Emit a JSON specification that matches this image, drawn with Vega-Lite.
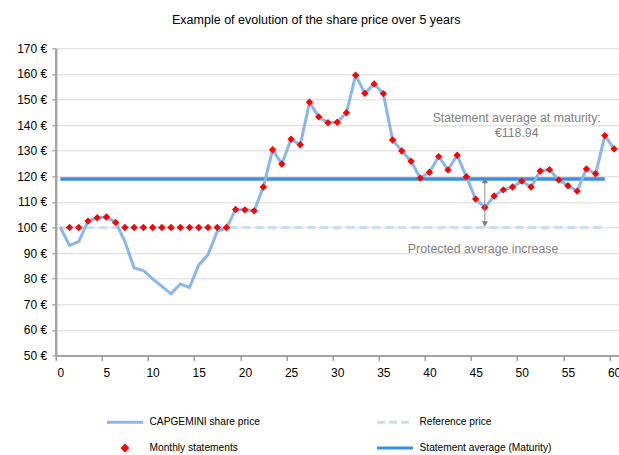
{
  "$schema": "https://vega.github.io/schema/vega-lite/v6.json",
  "autosize": {"type": "none"},
  "padding": {"left": 55.7, "top": 48.3, "right": 0.3, "bottom": 99.5},
  "width": 563,
  "height": 307.2,
  "background": "white",
  "title": {
    "text": "Example of evolution of the share price over 5 years",
    "font": "Liberation Sans",
    "fontSize": 12.5,
    "fontWeight": "normal",
    "color": "black",
    "anchor": "middle",
    "dx": -21,
    "offset": 16
  },
  "config": {
    "view": {"stroke": null},
    "font": "Liberation Sans",
    "axisX": {
      "title": null,
      "grid": false,
      "domainColor": "#8c8c8c",
      "domainWidth": 1.5,
      "tickColor": "#8c8c8c",
      "tickWidth": 1.2,
      "tickSize": 5,
      "tickOffset": -4.6,
      "labelOffset": 4.6,
      "labelPadding": 7,
      "labelFont": "Liberation Sans",
      "labelFontSize": 12,
      "labelColor": "black",
      "labelFlush": false,
      "labelOverlap": false
    },
    "axisY": {
      "title": null,
      "grid": true,
      "gridColor": "#d9d9d9",
      "gridWidth": 1,
      "domainColor": "#a6a6a6",
      "domainWidth": 2.5,
      "tickColor": "#8c8c8c",
      "tickWidth": 1,
      "tickSize": 4,
      "labelPadding": 5,
      "labelFont": "Liberation Sans",
      "labelFontSize": 12,
      "labelColor": "black",
      "labelFlush": false,
      "labelOverlap": false
    }
  },
  "datasets": {
    "main": [
      {"series": "CAPGEMINI share price", "month": 0, "value": 100},
      {"series": "CAPGEMINI share price", "month": 1, "value": 93},
      {"series": "CAPGEMINI share price", "month": 2, "value": 94.5},
      {"series": "CAPGEMINI share price", "month": 3, "value": 102.5},
      {"series": "CAPGEMINI share price", "month": 4, "value": 103.8},
      {"series": "CAPGEMINI share price", "month": 5, "value": 104.1},
      {"series": "CAPGEMINI share price", "month": 6, "value": 102},
      {"series": "CAPGEMINI share price", "month": 7, "value": 94.5},
      {"series": "CAPGEMINI share price", "month": 8, "value": 84.2},
      {"series": "CAPGEMINI share price", "month": 9, "value": 83.2},
      {"series": "CAPGEMINI share price", "month": 10, "value": 79.9},
      {"series": "CAPGEMINI share price", "month": 11, "value": 77},
      {"series": "CAPGEMINI share price", "month": 12, "value": 74.1},
      {"series": "CAPGEMINI share price", "month": 13, "value": 77.9},
      {"series": "CAPGEMINI share price", "month": 14, "value": 76.6},
      {"series": "CAPGEMINI share price", "month": 15, "value": 85.4},
      {"series": "CAPGEMINI share price", "month": 16, "value": 89.4},
      {"series": "CAPGEMINI share price", "month": 17, "value": 98.5},
      {"series": "CAPGEMINI share price", "month": 18, "value": 99.8},
      {"series": "CAPGEMINI share price", "month": 19, "value": 107},
      {"series": "CAPGEMINI share price", "month": 20, "value": 106.9},
      {"series": "CAPGEMINI share price", "month": 21, "value": 106.5},
      {"series": "CAPGEMINI share price", "month": 22, "value": 115.8},
      {"series": "CAPGEMINI share price", "month": 23, "value": 130.4},
      {"series": "CAPGEMINI share price", "month": 24, "value": 124.8},
      {"series": "CAPGEMINI share price", "month": 25, "value": 134.5},
      {"series": "CAPGEMINI share price", "month": 26, "value": 132.3},
      {"series": "CAPGEMINI share price", "month": 27, "value": 148.9},
      {"series": "CAPGEMINI share price", "month": 28, "value": 143.2},
      {"series": "CAPGEMINI share price", "month": 29, "value": 140.9},
      {"series": "CAPGEMINI share price", "month": 30, "value": 141.1},
      {"series": "CAPGEMINI share price", "month": 31, "value": 144.8},
      {"series": "CAPGEMINI share price", "month": 32, "value": 159.5},
      {"series": "CAPGEMINI share price", "month": 33, "value": 152.4},
      {"series": "CAPGEMINI share price", "month": 34, "value": 156.1},
      {"series": "CAPGEMINI share price", "month": 35, "value": 152.3},
      {"series": "CAPGEMINI share price", "month": 36, "value": 134.2},
      {"series": "CAPGEMINI share price", "month": 37, "value": 129.9},
      {"series": "CAPGEMINI share price", "month": 38, "value": 125.9},
      {"series": "CAPGEMINI share price", "month": 39, "value": 119.3},
      {"series": "CAPGEMINI share price", "month": 40, "value": 121.6},
      {"series": "CAPGEMINI share price", "month": 41, "value": 127.7},
      {"series": "CAPGEMINI share price", "month": 42, "value": 122.5},
      {"series": "CAPGEMINI share price", "month": 43, "value": 128.2},
      {"series": "CAPGEMINI share price", "month": 44, "value": 119.8},
      {"series": "CAPGEMINI share price", "month": 45, "value": 111.1},
      {"series": "CAPGEMINI share price", "month": 46, "value": 107.8},
      {"series": "CAPGEMINI share price", "month": 47, "value": 112.3},
      {"series": "CAPGEMINI share price", "month": 48, "value": 114.7},
      {"series": "CAPGEMINI share price", "month": 49, "value": 115.8},
      {"series": "CAPGEMINI share price", "month": 50, "value": 118.1},
      {"series": "CAPGEMINI share price", "month": 51, "value": 115.8},
      {"series": "CAPGEMINI share price", "month": 52, "value": 122.1},
      {"series": "CAPGEMINI share price", "month": 53, "value": 122.6},
      {"series": "CAPGEMINI share price", "month": 54, "value": 118.6},
      {"series": "CAPGEMINI share price", "month": 55, "value": 116.3},
      {"series": "CAPGEMINI share price", "month": 56, "value": 114.2},
      {"series": "CAPGEMINI share price", "month": 57, "value": 122.9},
      {"series": "CAPGEMINI share price", "month": 58, "value": 121},
      {"series": "CAPGEMINI share price", "month": 59, "value": 135.9},
      {"series": "CAPGEMINI share price", "month": 60, "value": 130.7},
      {"series": "Monthly statements", "month": 1, "value": 100},
      {"series": "Monthly statements", "month": 2, "value": 100},
      {"series": "Monthly statements", "month": 3, "value": 102.5},
      {"series": "Monthly statements", "month": 4, "value": 103.8},
      {"series": "Monthly statements", "month": 5, "value": 104.1},
      {"series": "Monthly statements", "month": 6, "value": 102},
      {"series": "Monthly statements", "month": 7, "value": 100},
      {"series": "Monthly statements", "month": 8, "value": 100},
      {"series": "Monthly statements", "month": 9, "value": 100},
      {"series": "Monthly statements", "month": 10, "value": 100},
      {"series": "Monthly statements", "month": 11, "value": 100},
      {"series": "Monthly statements", "month": 12, "value": 100},
      {"series": "Monthly statements", "month": 13, "value": 100},
      {"series": "Monthly statements", "month": 14, "value": 100},
      {"series": "Monthly statements", "month": 15, "value": 100},
      {"series": "Monthly statements", "month": 16, "value": 100},
      {"series": "Monthly statements", "month": 17, "value": 100},
      {"series": "Monthly statements", "month": 18, "value": 100},
      {"series": "Monthly statements", "month": 19, "value": 107},
      {"series": "Monthly statements", "month": 20, "value": 106.9},
      {"series": "Monthly statements", "month": 21, "value": 106.5},
      {"series": "Monthly statements", "month": 22, "value": 115.8},
      {"series": "Monthly statements", "month": 23, "value": 130.4},
      {"series": "Monthly statements", "month": 24, "value": 124.8},
      {"series": "Monthly statements", "month": 25, "value": 134.5},
      {"series": "Monthly statements", "month": 26, "value": 132.3},
      {"series": "Monthly statements", "month": 27, "value": 148.9},
      {"series": "Monthly statements", "month": 28, "value": 143.2},
      {"series": "Monthly statements", "month": 29, "value": 140.9},
      {"series": "Monthly statements", "month": 30, "value": 141.1},
      {"series": "Monthly statements", "month": 31, "value": 144.8},
      {"series": "Monthly statements", "month": 32, "value": 159.5},
      {"series": "Monthly statements", "month": 33, "value": 152.4},
      {"series": "Monthly statements", "month": 34, "value": 156.1},
      {"series": "Monthly statements", "month": 35, "value": 152.3},
      {"series": "Monthly statements", "month": 36, "value": 134.2},
      {"series": "Monthly statements", "month": 37, "value": 129.9},
      {"series": "Monthly statements", "month": 38, "value": 125.9},
      {"series": "Monthly statements", "month": 39, "value": 119.3},
      {"series": "Monthly statements", "month": 40, "value": 121.6},
      {"series": "Monthly statements", "month": 41, "value": 127.7},
      {"series": "Monthly statements", "month": 42, "value": 122.5},
      {"series": "Monthly statements", "month": 43, "value": 128.2},
      {"series": "Monthly statements", "month": 44, "value": 119.8},
      {"series": "Monthly statements", "month": 45, "value": 111.1},
      {"series": "Monthly statements", "month": 46, "value": 107.8},
      {"series": "Monthly statements", "month": 47, "value": 112.3},
      {"series": "Monthly statements", "month": 48, "value": 114.7},
      {"series": "Monthly statements", "month": 49, "value": 115.8},
      {"series": "Monthly statements", "month": 50, "value": 118.1},
      {"series": "Monthly statements", "month": 51, "value": 115.8},
      {"series": "Monthly statements", "month": 52, "value": 122.1},
      {"series": "Monthly statements", "month": 53, "value": 122.6},
      {"series": "Monthly statements", "month": 54, "value": 118.6},
      {"series": "Monthly statements", "month": 55, "value": 116.3},
      {"series": "Monthly statements", "month": 56, "value": 114.2},
      {"series": "Monthly statements", "month": 57, "value": 122.9},
      {"series": "Monthly statements", "month": 58, "value": 121},
      {"series": "Monthly statements", "month": 59, "value": 135.9},
      {"series": "Monthly statements", "month": 60, "value": 130.7},
      {"series": "Reference price", "month": 0, "value": 100},
      {"series": "Reference price", "month": 59, "value": 100},
      {"series": "Statement average (Maturity)", "month": 0, "value": 118.94},
      {"series": "Statement average (Maturity)", "month": 59, "value": 118.94}
    ]
  },
  "layer": [
    {
      "data": {"name": "main"},
      "transform": [{"filter": "datum.series === 'Reference price'"}],
      "mark": {"type": "line", "strokeWidth": 3, "strokeDash": [8, 5]},
      "encoding": {
        "x": {"field": "month", "type": "quantitative", "scale": {"domain": [-0.5, 60.5], "nice": false, "zero": false}, "axis": {"values": [0, 5, 10, 15, 20, 25, 30, 35, 40, 45, 50, 55, 60]}},
        "y": {"field": "value", "type": "quantitative", "scale": {"domain": [50, 170], "nice": false, "zero": false}, "axis": {"values": [50, 60, 70, 80, 90, 100, 110, 120, 130, 140, 150, 160, 170], "labelExpr": "datum.value + ' €'"}},
        "color": {
          "field": "series",
          "type": "nominal",
          "scale": {
            "domain": ["CAPGEMINI share price", "Reference price", "Monthly statements", "Statement average (Maturity)"],
            "range": ["#8ab6ec", "#c9ddf5", "#ff0000", "#3a8fe3"]
          },
          "legend": {
            "title": null,
            "orient": "none",
            "legendX": 49.8,
            "legendY": 354.2,
            "direction": "horizontal",
            "columns": 2,
            "columnPadding": 110,
            "rowPadding": 0,
            "padding": 0,
            "symbolType": "stroke",
            "symbolSize": 1296,
            "symbolStrokeWidth": 3,
            "labelOffset": 5,
            "labelFont": "Liberation Sans",
            "labelFontSize": 10.2,
            "labelColor": "black",
            "labelLimit": 300,
            "encode": {
              "symbols": {
                "update": {
                  "shape": {"signal": "datum.value === 'Monthly statements' ? 'M0,-0.13L0.13,0L0,0.13L-0.13,0Z' : 'stroke'"},
                  "size": {"value": 1296},
                  "strokeWidth": {"value": 3},
                  "strokeDash": {"signal": "datum.value === 'Reference price' ? [8, 4] : [1, 0]"},
                  "fill": {"signal": "datum.value === 'Monthly statements' ? '#ff0000' : 'transparent'"},
                  "opacity": {"value": 1}
                }
              }
            }
          }
        }
      }
    },
    {
      "data": {"name": "main"},
      "transform": [{"filter": "datum.series === 'Statement average (Maturity)'"}],
      "mark": {"type": "line", "strokeWidth": 3.5},
      "encoding": {
        "x": {"field": "month", "type": "quantitative", "scale": {"domain": [-0.5, 60.5], "nice": false, "zero": false}, "axis": {"values": [0, 5, 10, 15, 20, 25, 30, 35, 40, 45, 50, 55, 60]}},
        "y": {"field": "value", "type": "quantitative", "scale": {"domain": [50, 170], "nice": false, "zero": false}, "axis": {"values": [50, 60, 70, 80, 90, 100, 110, 120, 130, 140, 150, 160, 170], "labelExpr": "datum.value + ' €'"}},
        "color": {"field": "series", "type": "nominal"}
      }
    },
    {
      "data": {"name": "main"},
      "transform": [{"filter": "datum.series === 'CAPGEMINI share price'"}],
      "mark": {"type": "line", "strokeWidth": 3},
      "encoding": {
        "x": {"field": "month", "type": "quantitative", "scale": {"domain": [-0.5, 60.5], "nice": false, "zero": false}, "axis": {"values": [0, 5, 10, 15, 20, 25, 30, 35, 40, 45, 50, 55, 60]}},
        "y": {"field": "value", "type": "quantitative", "scale": {"domain": [50, 170], "nice": false, "zero": false}, "axis": {"values": [50, 60, 70, 80, 90, 100, 110, 120, 130, 140, 150, 160, 170], "labelExpr": "datum.value + ' €'"}},
        "color": {"field": "series", "type": "nominal"}
      }
    },
    {
      "data": {"name": "main"},
      "transform": [{"filter": "datum.series === 'Monthly statements'"}],
      "mark": {"type": "point", "shape": "diamond", "filled": true, "size": 55, "opacity": 1},
      "encoding": {
        "x": {"field": "month", "type": "quantitative", "scale": {"domain": [-0.5, 60.5], "nice": false, "zero": false}, "axis": {"values": [0, 5, 10, 15, 20, 25, 30, 35, 40, 45, 50, 55, 60]}},
        "y": {"field": "value", "type": "quantitative", "scale": {"domain": [50, 170], "nice": false, "zero": false}, "axis": {"values": [50, 60, 70, 80, 90, 100, 110, 120, 130, 140, 150, 160, 170], "labelExpr": "datum.value + ' €'"}},
        "color": {"field": "series", "type": "nominal"}
      }
    },
    {
      "data": {"values": [{"label": "arrow"}]},
      "mark": {"type": "rule", "color": "#8c8c8c", "strokeWidth": 1},
      "encoding": {
        "x": {"datum": 46, "type": "quantitative", "scale": {"domain": [-0.5, 60.5], "nice": false, "zero": false}, "axis": {"values": [0, 5, 10, 15, 20, 25, 30, 35, 40, 45, 50, 55, 60]}},
        "y": {"datum": 101.4, "type": "quantitative", "scale": {"domain": [50, 170], "nice": false, "zero": false}, "axis": {"values": [50, 60, 70, 80, 90, 100, 110, 120, 130, 140, 150, 160, 170], "labelExpr": "datum.value + ' €'"}},
        "y2": {"datum": 118.4}
      }
    },
    {
      "data": {"values": [{"label": "arrow head up"}]},
      "mark": {"type": "point", "shape": "triangle-up", "filled": true, "size": 40, "color": "#7f7f7f", "opacity": 1},
      "encoding": {
        "x": {"datum": 46, "type": "quantitative", "scale": {"domain": [-0.5, 60.5], "nice": false, "zero": false}, "axis": {"values": [0, 5, 10, 15, 20, 25, 30, 35, 40, 45, 50, 55, 60]}},
        "y": {"datum": 118.4, "type": "quantitative", "scale": {"domain": [50, 170], "nice": false, "zero": false}, "axis": {"values": [50, 60, 70, 80, 90, 100, 110, 120, 130, 140, 150, 160, 170], "labelExpr": "datum.value + ' €'"}}
      }
    },
    {
      "data": {"values": [{"label": "arrow head down"}]},
      "mark": {"type": "point", "shape": "triangle-down", "filled": true, "size": 40, "color": "#7f7f7f", "opacity": 1},
      "encoding": {
        "x": {"datum": 46, "type": "quantitative", "scale": {"domain": [-0.5, 60.5], "nice": false, "zero": false}, "axis": {"values": [0, 5, 10, 15, 20, 25, 30, 35, 40, 45, 50, 55, 60]}},
        "y": {"datum": 101.4, "type": "quantitative", "scale": {"domain": [50, 170], "nice": false, "zero": false}, "axis": {"values": [50, 60, 70, 80, 90, 100, 110, 120, 130, 140, 150, 160, 170], "labelExpr": "datum.value + ' €'"}}
      }
    },
    {
      "data": {"values": [{"label": "Statement average at maturity:\n€118.94"}]},
      "mark": {"type": "text", "font": "Liberation Sans", "fontSize": 12.3, "color": "#7f7f7f", "align": "center", "baseline": "middle", "lineBreak": "\n", "lineHeight": 15.6},
      "encoding": {
        "x": {"datum": 49.45, "type": "quantitative", "scale": {"domain": [-0.5, 60.5], "nice": false, "zero": false}, "axis": {"values": [0, 5, 10, 15, 20, 25, 30, 35, 40, 45, 50, 55, 60]}},
        "y": {"datum": 142.9, "type": "quantitative", "scale": {"domain": [50, 170], "nice": false, "zero": false}, "axis": {"values": [50, 60, 70, 80, 90, 100, 110, 120, 130, 140, 150, 160, 170], "labelExpr": "datum.value + ' €'"}},
        "text": {"field": "label"}
      }
    },
    {
      "data": {"values": [{"label": "Protected average increase"}]},
      "mark": {"type": "text", "font": "Liberation Sans", "fontSize": 12.3, "color": "#7f7f7f", "align": "center", "baseline": "middle"},
      "encoding": {
        "x": {"datum": 45.8, "type": "quantitative", "scale": {"domain": [-0.5, 60.5], "nice": false, "zero": false}, "axis": {"values": [0, 5, 10, 15, 20, 25, 30, 35, 40, 45, 50, 55, 60]}},
        "y": {"datum": 91.5, "type": "quantitative", "scale": {"domain": [50, 170], "nice": false, "zero": false}, "axis": {"values": [50, 60, 70, 80, 90, 100, 110, 120, 130, 140, 150, 160, 170], "labelExpr": "datum.value + ' €'"}},
        "text": {"field": "label"}
      }
    }
  ]
}
